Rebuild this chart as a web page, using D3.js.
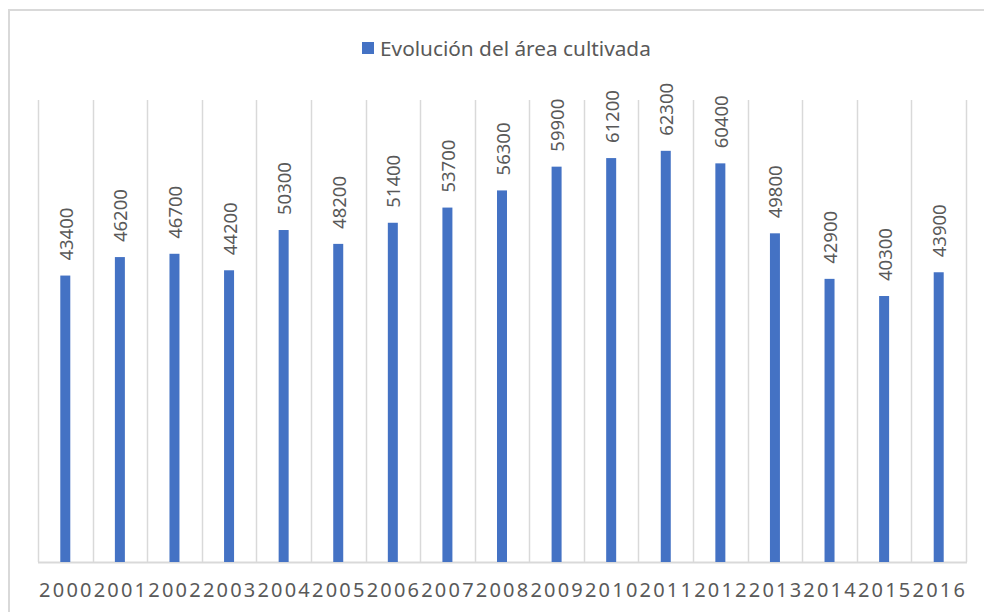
<!DOCTYPE html>
<html>
<head>
<meta charset="utf-8">
<script src="https://cdn.jsdelivr.net/npm/d3@7"></script>
<style>
  body { margin: 0; background: #fff; }
  text { font-family: "Noto Sans", "Open Sans", sans-serif; fill: #595959; }
</style>
</head>
<body>
<div id="chart"></div>
<script>
// data
var years = ["2000","2001","2002","2003","2004","2005","2006","2007","2008",
             "2009","2010","2011","2012","2013","2014","2015","2016"];
var area = [43400, 46200, 46700, 44200, 50300, 48200, 51400, 53700, 56300,
            59900, 61200, 62300, 60400, 49800, 42900, 40300, 43900];
var seriesName = "Evolución del área cultivada";

var W = 984, H = 612;
var plotL = 38, plotR = 966, plotT = 100, plotB = 562;

var svg = d3.select("#chart").append("svg")
    .attr("width", W)
    .attr("height", H);

// chart border
svg.append("rect")
    .attr("x", 9).attr("y", 10)
    .attr("width", 1000).attr("height", 700)
    .attr("fill", "none")
    .attr("stroke", "#d9d9d9")
    .attr("stroke-width", 2);

var x = d3.scaleBand().domain(years).range([plotL, plotR]);
var y = d3.scaleLinear().domain([0, 70000]).range([plotB, plotT]);

// vertical gridlines at category boundaries
var bounds = years.map(function(d) { return x(d); }).concat([plotR]);
svg.selectAll("line.grid")
    .data(bounds)
    .enter().append("line")
    .attr("class", "grid")
    .attr("x1", function(d) { return Math.round(d) + 0.5; })
    .attr("x2", function(d) { return Math.round(d) + 0.5; })
    .attr("y1", plotT)
    .attr("y2", plotB)
    .attr("stroke", "#d9d9d9")
    .attr("stroke-width", 1.5);

// bottom axis line
svg.append("line")
    .attr("x1", plotL).attr("x2", plotR + 1)
    .attr("y1", plotB + 0.5).attr("y2", plotB + 0.5)
    .attr("stroke", "#d9d9d9")
    .attr("stroke-width", 2);

var barW = 10;
svg.selectAll("rect.bar")
    .data(area)
    .enter().append("rect")
    .attr("class", "bar")
    .attr("x", function(d, i) { return x(years[i]) + x.bandwidth() / 2 - barW / 2; })
    .attr("y", function(d) { return y(d); })
    .attr("width", barW)
    .attr("height", function(d) { return plotB - y(d); })
    .attr("fill", "#4472c4");

// value labels, rotated
svg.selectAll("text.val")
    .data(area)
    .enter().append("text")
    .attr("class", "val")
    .attr("transform", function(d, i) {
        var cx = x(years[i]) + x.bandwidth() / 2 + 7.5;
        return "translate(" + cx + "," + (y(d) - 15) + ") rotate(-90)";
    })
    .style("font-size", "18.5px")
    .text(function(d) { return d; });

// year labels
svg.selectAll("text.year")
    .data(years)
    .enter().append("text")
    .attr("class", "year")
    .attr("x", function(d) { return x(d) + x.bandwidth() / 2 + 1.1; })
    .attr("y", 597)
    .attr("text-anchor", "middle")
    .style("font-size", "20px")
    .style("letter-spacing", "2.2px")
    .text(function(d) { return d; });

// legend
svg.append("rect")
    .attr("x", 362).attr("y", 42)
    .attr("width", 12).attr("height", 12)
    .attr("fill", "#4472c4");
svg.append("text")
    .attr("x", 380).attr("y", 56)
    .style("font-size", "20.8px")
    .text(seriesName);
</script>
</body>
</html>
